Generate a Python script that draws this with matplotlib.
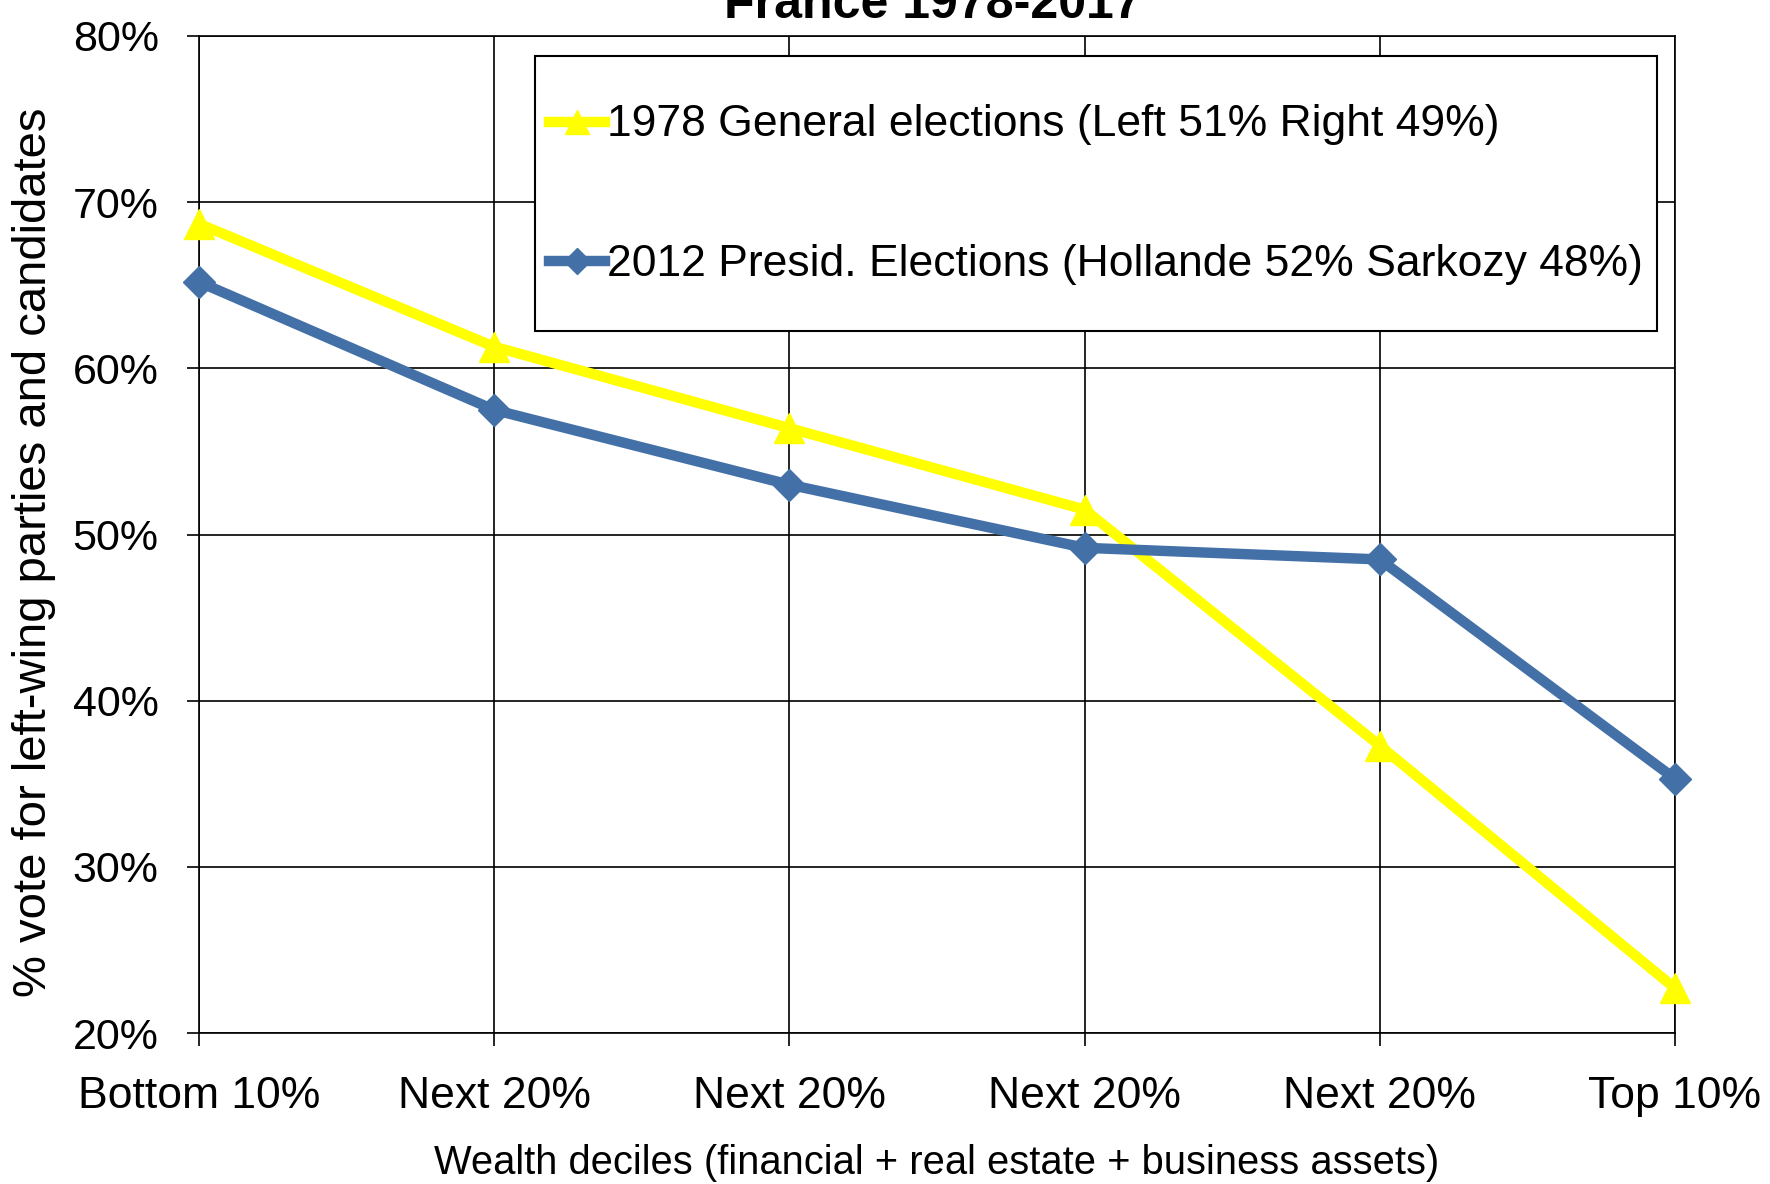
import matplotlib
matplotlib.use("Agg")
import matplotlib.pyplot as plt

# Data
deciles = ["Bottom 10%", "Next 20%", "Next 20%", "Next 20%", "Next 20%", "Top 10%"]
vote_1978 = [68.7, 61.3, 56.4, 51.5, 37.3, 22.7]
vote_2012 = [65.2, 57.5, 53.0, 49.2, 48.5, 35.3]
label_1978 = "1978 General elections (Left 51% Right 49%)"
label_2012 = "2012 Presid. Elections (Hollande 52% Sarkozy 48%)"
yticks = [20, 30, 40, 50, 60, 70, 80]

plt.rcParams["font.family"] = ["Liberation Sans", "DejaVu Sans"]

fig = plt.figure(figsize=(17.7, 11.84), dpi=100)
ax = fig.add_axes([0.1124, 0.1275, 0.8339, 0.8421])

x = list(range(len(deciles)))
ax.plot(x, vote_1978, color="#FFFF00", lw=7.5, marker="^", ms=21,
        label=label_1978, clip_on=False, zorder=3)
ax.plot(x, vote_2012, color="#4470A8", lw=7.5, marker="D", ms=16,
        label=label_2012, clip_on=False, zorder=4)

ax.set_xlim(0, len(deciles) - 1)
ax.set_ylim(20, 80)
ax.set_xticks(x)
ax.set_xticklabels(deciles, fontsize=32)
ax.set_yticks(yticks)
ax.set_yticklabels([f"{v}%" for v in yticks], fontsize=31)
ax.tick_params(axis="both", direction="out", length=9, width=1.2, color="black")
ax.tick_params(axis="x", pad=22)
ax.tick_params(axis="y", pad=20)
ax.grid(True, color="black", lw=1.2)
ax.set_axisbelow(True)
for s in ax.spines.values():
    s.set_color("black")
    s.set_linewidth(1.2)

ax.set_xlabel("Wealth deciles (financial + real estate + business assets)", fontsize=28.7)
ax.xaxis.set_label_coords(0.5, -0.13)
ax.xaxis.label.set_va("center")
ax.set_ylabel("% vote for left-wing parties and candidates", fontsize=34)
ax.yaxis.set_label_coords(-0.112, 0.482)
ax.yaxis.label.set_va("center")

fig.text(0.527, 1 - 18 / 1184, "France 1978-2017", fontsize=36, fontweight="bold",
         ha="center", va="baseline")

leg_fs = 32
leg = ax.legend(loc="upper left", bbox_to_anchor=(0.228, 0.98), fontsize=leg_fs,
                frameon=True, fancybox=False, edgecolor="black", framealpha=1,
                handlelength=1.27, handletextpad=0.05, handleheight=3.4,
                labelspacing=0.68, borderpad=0.3, borderaxespad=0,
                markerscale=0.8)
leg.get_frame().set_linewidth(1.5)
# tall handle boxes put the handle above the text; pull it back to the text middle
for h in leg.legend_handles:
    h.set_ydata([0.33 * leg_fs] * len(h.get_xdata()))

fig.savefig("out.png", dpi=100)
